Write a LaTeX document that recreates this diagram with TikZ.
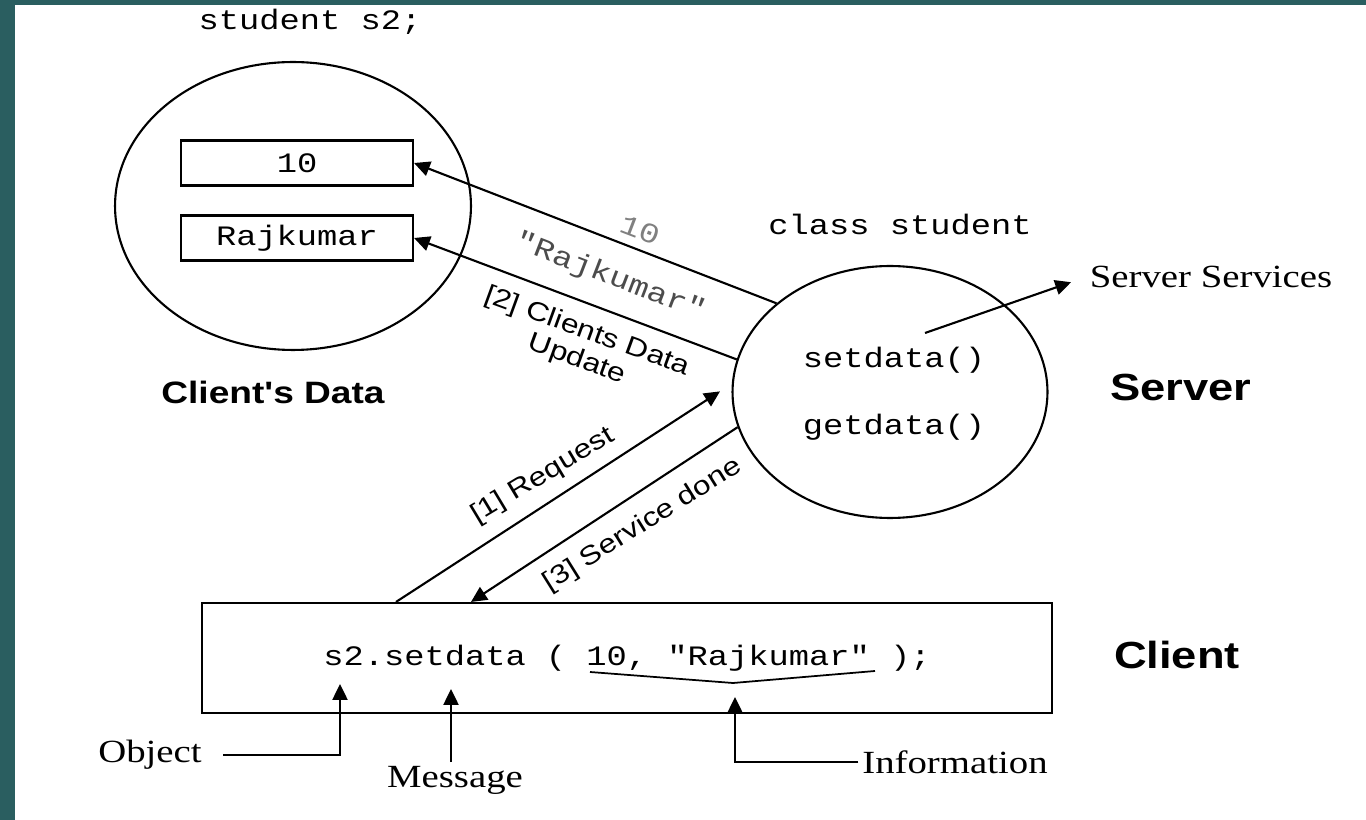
\documentclass[tikz,border=0pt]{standalone}
\usepackage{fontspec}
\setmainfont{Liberation Serif}
\setsansfont{Liberation Sans}
\setmonofont{Liberation Mono}
\usepackage{graphicx}
\usetikzlibrary{shapes.geometric,arrows.meta,positioning}
\definecolor{slidebg}{RGB}{42,94,96}
\newcommand{\hwide}[1]{\scalebox{1.2}[1]{#1}}

\begin{document}
\begin{tikzpicture}[x=0.02cm,y=-0.02cm,
    every node/.style={inner sep=2pt},
    blob/.style={draw,ellipse,line width=1.2pt,inner sep=0pt},
    code/.style={font=\fontsize{16}{19}\selectfont\ttfamily},
    cell/.style={code,draw,line width=1.2pt,minimum width=4.64cm,minimum height=0.9cm,inner sep=0pt},
    title/.style={font=\fontsize{21.5}{25}\selectfont\sffamily\bfseries},
    caption/.style={font=\fontsize{17.6}{21}\selectfont\sffamily\bfseries},
    tag/.style={font=\fontsize{18.4}{22}\selectfont\rmfamily},
    note/.style={font=\fontsize{15}{17}\selectfont\sffamily,align=center,inner sep=0pt},
    arr/.style={line width=1.2pt,-{Triangle[length=9pt,width=8.5pt]}}]
    % Sfondo e cornice
    \fill[white] (0,0) rectangle (1366,820);
    \fill[slidebg] (0,0) rectangle (15,820);
    \fill[slidebg] (0,0) rectangle (1366,5);
    \useasboundingbox (0,0) rectangle (1366,820);

    % Dati del client
    \node[code] (decl) at (310,22) {\hwide{student s2;}};
    \node[blob,minimum width=7.12cm,minimum height=5.76cm] (cdata) at (293,206) {};
    \node[cell] (valbox) at (297,163) {\hwide{10}};
    \node[cell] (namebox) at (297,238) {\hwide{Rajkumar}};
    \node[caption] (cdlabel) at (273,392) {\hwide{Client\textquotesingle s Data}};

    % Server
    \node[code] (cls) at (900,224) {\hwide{class student}};
    \node[blob,minimum width=6.3cm,minimum height=5.04cm] (srv) at (890,392) {};
    \node[code] (setd) at (894,360) {\hwide{setdata()}};
    \node[code] (getd) at (894,427) {\hwide{getdata()}};
    \node[title] (srvlabel) at (1181,387) {\hwide{Server}};
    \node[tag,anchor=west] (svc) at (1086,277) {\hwide{Server Services}};
    \coordinate (svcstart) at (925,333);
    \draw[arr,shorten >=9pt] (svcstart) -- (svc.west);

    % Client
    \node[code,draw,line width=1.2pt,minimum width=17cm,minimum height=2.2cm] (cli) at (627,658)
        {\hwide{s2.setdata ( 10, "Rajkumar" );}};
    \node[title] (clilabel) at (1177,655) {\hwide{Client}};

    % Messaggi
    \draw[arr] (srv.142) -- (valbox.east);
    \draw[arr] (srv.168) -- (namebox.east);
    \draw[arr,shorten >=8pt] ([xshift=3.9cm]cli.north west) -- (srv.177);
    \draw[arr] (srv.193) -- ([xshift=5.4cm]cli.north west);
    \node[code,text=gray,rotate=-21,inner sep=0pt] (lblval) at (640,230) {\hwide{10}};
    \node[code,text=black!70,rotate=-21,inner sep=0pt] (lblname) at (610,277) {\hwide{"Rajkumar"}};
    \node[note,rotate=-20] (lblupd) at (582,346) {\hwide{[2] Clients Data}\\\hwide{Update}};
    \node[note,rotate=31] (lblreq) at (543,476) {\hwide{[1] Request}};
    \node[note,rotate=32] (lbldone) at (643,525) {\hwide{[3] Service done}};

    % Parti della chiamata
    \node[tag] (obj) at (150,755) {\hwide{Object}};
    \coordinate (objtip) at (340,684);
    \draw[arr,shorten <=10pt] (obj.east) -| (objtip);
    \node[tag] (msg) at (455,780) {\hwide{Message}};
    \coordinate (msgtip) at (451,689);
    \draw[arr] (msg.north -| msgtip) -- (msgtip);
    \node[tag] (info) at (955,762) {\hwide{Information}};
    \coordinate (infotip) at (735,697);
    \draw[arr] (info.west) -| (infotip);
    \coordinate (brl) at (590,672);
    \coordinate (brm) at (733,683);
    \coordinate (brr) at (875,671);
    \draw[line width=1pt] (brl) -- (brm) -- (brr);
\end{tikzpicture}
\end{document}
